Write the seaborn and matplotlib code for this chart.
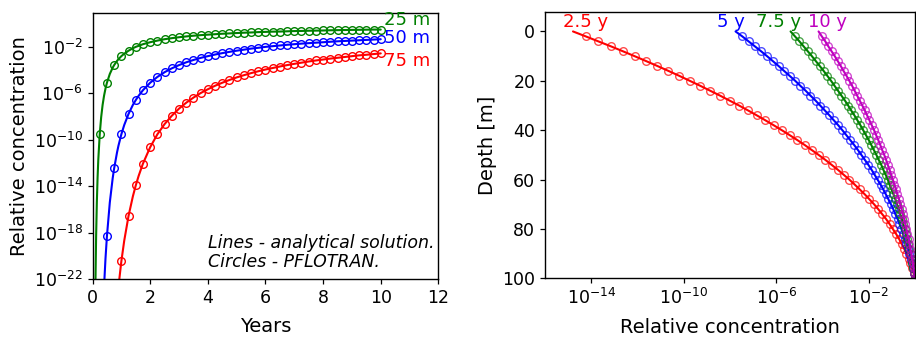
import numpy as np
import pandas as pd
import matplotlib
matplotlib.use("Agg")
import matplotlib.pyplot as plt
import seaborn as sns

# ---------------- Left panel data: concentration vs time ----------------
# PFLOTRAN output times (years)
times = [0.25, 0.5, 0.75, 1.0, 1.25, 1.5, 1.75, 2.0, 2.25, 2.5,
         2.75, 3.0, 3.25, 3.5, 3.75, 4.0, 4.25, 4.5, 4.75, 5.0,
         5.25, 5.5, 5.75, 6.0, 6.25, 6.5, 6.75, 7.0, 7.25, 7.5,
         7.75, 8.0, 8.25, 8.5, 8.75, 9.0, 9.25, 9.5, 9.75, 10.0]
# log10 of relative concentration at the circles
log_c_25m = [-9.52, -5.08, -3.56, -2.79, -2.32, -1.99, -1.76, -1.59, -1.45, -1.33,
             -1.24, -1.16, -1.09, -1.03, -0.98, -0.94, -0.90, -0.86, -0.83, -0.80,
             -0.77, -0.75, -0.72, -0.70, -0.68, -0.67, -0.65, -0.63, -0.62, -0.60,
             -0.59, -0.58, -0.56, -0.55, -0.54, -0.53, -0.52, -0.51, -0.50, -0.50]
log_c_50m = [-35.67, -18.29, -12.46, -9.52, -7.76, -6.57, -5.72, -5.08, -4.58, -4.17,
             -3.84, -3.56, -3.32, -3.12, -2.94, -2.79, -2.65, -2.53, -2.42, -2.32,
             -2.23, -2.14, -2.07, -1.99, -1.93, -1.87, -1.81, -1.76, -1.71, -1.67,
             -1.63, -1.59, -1.55, -1.51, -1.48, -1.45, -1.42, -1.39, -1.36, -1.33]
log_c_75m = [-78.93, -40.00, -26.99, -20.46, -16.54, -13.92, -12.04, -10.63, -9.52, -8.64,
             -7.92, -7.31, -6.80, -6.36, -5.97, -5.64, -5.34, -5.08, -4.84, -4.62,
             -4.43, -4.25, -4.09, -3.94, -3.81, -3.68, -3.56, -3.45, -3.35, -3.25,
             -3.16, -3.08, -3.00, -2.93, -2.86, -2.79, -2.72, -2.67, -2.61, -2.55]
# extra analytical-curve times (steep early part)
extra_times = [0.08, 0.1, 0.125, 0.15, 0.175, 0.2, 0.3, 0.35, 0.4, 0.45,
               0.6, 0.7, 0.85, 0.9, 1.1, 1.4, 1.6]
extra_25m = [-28.07, -22.64, -18.29, -15.38, -13.29, -11.73, -8.05, -6.99, -6.20, -5.58,
             -4.32, -3.78, -3.20, -3.05, -2.58, -2.11, -1.90]
extra_50m = [-109.15, -87.56, -70.26, -58.76, -50.51, -44.33, -29.89, -25.75, -22.64, -20.22,
             -15.38, -13.29, -11.08, -10.50, -8.72, -6.99, -6.20]
extra_75m = [-244.0, -195.4, -156.6, -130.8, -112.2, -98.4, -66.0, -56.7, -49.8, -44.3,
             -33.5, -28.85, -23.92, -22.64, -18.68, -14.86, -13.10]
left_labels = ["25 m", "50 m", "75 m"]
left_colors = ["#008000", "#0000ff", "#ff0000"]

# ---------------- Right panel data: concentration vs depth ----------------
depths = [0, 2, 4, 6, 8, 10, 12, 14, 16, 18, 20, 22, 24, 26, 28, 30, 32, 34, 36, 38,
          40, 42, 44, 46, 48, 50, 52, 54, 56, 58, 60, 62, 64, 66, 68, 70, 72, 74, 76, 78,
          80, 82, 84, 86, 88, 90, 92, 94, 96, 98, 100]
log_c_2_5y = [-14.79, -14.24, -13.70, -13.16, -12.64, -12.13, -11.63, -11.14, -10.66, -10.19,
              -9.74, -9.29, -8.86, -8.43, -8.02, -7.61, -7.22, -6.84, -6.47, -6.11,
              -5.76, -5.42, -5.09, -4.77, -4.47, -4.17, -3.88, -3.61, -3.34, -3.09,
              -2.84, -2.61, -2.39, -2.17, -1.97, -1.77, -1.59, -1.42, -1.25, -1.10,
              -0.96, -0.82, -0.69, -0.58, -0.47, -0.37, -0.28, -0.20, -0.13, -0.06, 0.00]
log_c_5y = [-7.76, -7.47, -7.20, -6.93, -6.66, -6.40, -6.15, -5.90, -5.66, -5.42,
            -5.18, -4.96, -4.73, -4.52, -4.30, -4.10, -3.90, -3.70, -3.51, -3.32,
            -3.14, -2.97, -2.80, -2.63, -2.47, -2.32, -2.17, -2.02, -1.88, -1.75,
            -1.62, -1.49, -1.37, -1.26, -1.15, -1.04, -0.94, -0.85, -0.75, -0.67,
            -0.59, -0.51, -0.44, -0.37, -0.30, -0.24, -0.19, -0.13, -0.09, -0.04, 0.00]
log_c_7_5y = [-5.38, -5.19, -5.00, -4.82, -4.64, -4.46, -4.29, -4.12, -3.95, -3.79,
              -3.63, -3.48, -3.33, -3.18, -3.03, -2.89, -2.76, -2.62, -2.49, -2.36,
              -2.24, -2.12, -2.00, -1.89, -1.78, -1.67, -1.57, -1.46, -1.37, -1.27,
              -1.18, -1.10, -1.01, -0.93, -0.85, -0.78, -0.70, -0.64, -0.57, -0.51,
              -0.45, -0.39, -0.34, -0.29, -0.24, -0.19, -0.15, -0.11, -0.07, -0.03, 0.00]
log_c_10y = [-4.17, -4.03, -3.88, -3.75, -3.61, -3.47, -3.34, -3.21, -3.09, -2.96,
             -2.84, -2.72, -2.61, -2.50, -2.39, -2.28, -2.17, -2.07, -1.97, -1.87,
             -1.77, -1.68, -1.59, -1.50, -1.42, -1.33, -1.25, -1.18, -1.10, -1.03,
             -0.96, -0.89, -0.82, -0.76, -0.69, -0.64, -0.58, -0.52, -0.47, -0.42,
             -0.37, -0.33, -0.28, -0.24, -0.20, -0.16, -0.13, -0.09, -0.06, -0.03, 0.00]
right_labels = ["2.5 y", "5 y", "7.5 y", "10 y"]
right_colors = ["#ff0000", "#0000ff", "#008000", "#bf00bf"]

# ---------------- Style ----------------
sns.set_theme(style="ticks", color_codes=False, rc={
    "axes.edgecolor": "black",
    "axes.linewidth": 1.0,
    "xtick.color": "black",
    "ytick.color": "black",
    "xtick.major.size": 3.5,
    "ytick.major.size": 3.5,
    "xtick.major.width": 0.9,
    "ytick.major.width": 0.9,
    "xtick.labelsize": 12.5,
    "ytick.labelsize": 12.5,
    "axes.labelsize": 14,
    "axes.labelcolor": "black",
    "text.color": "black",
})
plt.rcParams["font.family"] = ["DejaVu Sans"]

fig = plt.figure(figsize=(9.16, 3.38), dpi=100)
ax1 = fig.add_axes([0.1010, 0.1737, 0.3776, 0.7888])
ax2 = fig.add_axes([0.5950, 0.1766, 0.4039, 0.7888])

# ---------------- Left panel ----------------
ax1.set_yscale("log")
left_circles = [log_c_25m, log_c_50m, log_c_75m]
left_extras = [extra_25m, extra_50m, extra_75m]
for circ, extra, color in zip(left_circles, left_extras, left_colors):
    df_line = pd.DataFrame({"t": times + extra_times,
                            "c": np.power(10.0, np.array(circ + extra))}).sort_values("t")
    sns.lineplot(data=df_line, x="t", y="c", color=color, lw=1.5, ax=ax1,
                 estimator=None, sort=False)
    df_pts = pd.DataFrame({"t": times, "c": np.power(10.0, np.array(circ))})
    sns.lineplot(data=df_pts, x="t", y="c", ax=ax1, estimator=None, sort=False,
                 linestyle="", marker="o", markersize=5.5, markerfacecolor="none",
                 markeredgecolor=color, markeredgewidth=1.0, color=color)

ax1.set_xlim(0, 12)
ax1.set_ylim(1e-22, 9)
ax1.set_xticks([0, 2, 4, 6, 8, 10, 12])
ax1.set_yticks([1e-22, 1e-18, 1e-14, 1e-10, 1e-6, 1e-2])
ax1.yaxis.set_minor_locator(matplotlib.ticker.NullLocator())
ax1.set_xlabel("Years", labelpad=7)
ax1.set_ylabel("Relative concentration", labelpad=3)
label_pos = [(10.1, 10 ** 0.33), (10.1, 10 ** -1.25), (10.1, 10 ** -3.2)]
for (lx, ly), lab, color in zip(label_pos, left_labels, left_colors):
    ax1.text(lx, ly, lab, color=color, fontsize=13, va="center", ha="left")
ax1.text(4.0, 10 ** -19.69, "Lines - analytical solution.\nCircles - PFLOTRAN.",
         fontsize=12.5, style="italic", va="center", ha="left", linespacing=1.13)

# ---------------- Right panel ----------------
ax2.set_xscale("log")
right_series = [log_c_2_5y, log_c_5y, log_c_7_5y, log_c_10y]
for vals, color in zip(right_series, right_colors):
    df = pd.DataFrame({"d": depths, "c": np.power(10.0, np.array(vals))})
    sns.lineplot(data=df, x="c", y="d", color=color, lw=1.5, ax=ax2,
                 estimator=None, sort=False, orient="y")
    sns.lineplot(data=df.iloc[1:], x="c", y="d", ax=ax2, estimator=None, sort=False,
                 orient="y", linestyle="", marker="o", markersize=5.5,
                 markerfacecolor="none", markeredgecolor=color, markeredgewidth=1.0,
                 color=color, alpha=0.7)

ax2.set_xlim(1e-16, 1)
ax2.set_ylim(100, -8)
ax2.set_xticks([1e-14, 1e-10, 1e-6, 1e-2])
ax2.xaxis.set_minor_locator(matplotlib.ticker.NullLocator())
ax2.set_yticks([0, 20, 40, 60, 80, 100])
ax2.set_xlabel("Relative concentration", labelpad=7)
ax2.set_ylabel("Depth [m]")
rlabel_x = [10 ** -15.24, 10 ** -8.55, 10 ** -6.86, 10 ** -4.61]
for lx, lab, color in zip(rlabel_x, right_labels, right_colors):
    ax2.text(lx, -3.7, lab, color=color, fontsize=13, va="center", ha="left")

fig.savefig("out.png", dpi=100)
